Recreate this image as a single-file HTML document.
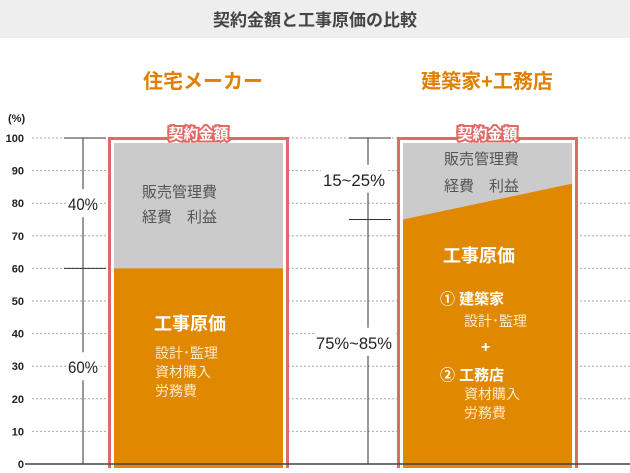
<!DOCTYPE html>
<html><head><meta charset="utf-8"><style>
body{margin:0;width:630px;height:468px;overflow:hidden;background:#fff;font-family:"Liberation Sans","Noto Sans CJK JP",sans-serif;}
</style></head><body>
<svg id="c" width="630" height="468" xmlns="http://www.w3.org/2000/svg" style="font-family:'Liberation Sans','Noto Sans CJK JP',sans-serif">
<rect x="0" y="0" width="630" height="38" fill="#eeeeee"/>
<text x="315" y="26" text-anchor="middle" font-size="17" font-weight="bold" fill="#444">契約金額と工事原価の比較</text>
<text x="203" y="88" text-anchor="middle" font-size="20" font-weight="bold" fill="#e07f00">住宅メーカー</text>
<text x="487" y="88" text-anchor="middle" font-size="20" font-weight="bold" fill="#e07f00">建築家+工務店</text>
<text x="8" y="122" font-size="11" font-weight="bold" fill="#222">(%)</text>
<g id="grid"></g>
<g id="bars"></g>
</svg>
<script>
const ticks=[0,10,20,30,40,50,60,70,80,90,100];
const categories=["住宅メーカー","建築家+工務店"];
const costLeft=[60,75];
const costRight=[60,86];
const y=v=>464-v*3.26;
const svg=document.getElementById('c');
const NS="http://www.w3.org/2000/svg";
function mk(t,a,p){const e=document.createElementNS(NS,t);for(const k in a)e.setAttribute(k,a[k]);(p||svg).appendChild(e);return e;}
const grid=document.getElementById('grid');
ticks.forEach(v=>{
  if(v>0){const l=mk('line',{x1:32,x2:630,y1:y(v),y2:y(v),stroke:'#aaa','stroke-dasharray':'2,2'},grid);
  
  }
  const t=mk('text',{x:24,y:y(v)+4,'text-anchor':'end','font-size':11,'font-weight':'bold',fill:'#222'},grid);t.textContent=v;
  
  
});
const bars=document.getElementById('bars');
const boxX=[108,397],boxW=181;
const bx=[83,368];
const lblX=[83,354];
const lbl1=["40%","15~25%"],lbl2=["60%","75%~85%"];
const len1=[30,62],len2=[30,76];
categories.forEach((c,i)=>{
  const x=boxX[i];
  const bg=mk('g',{},bars);
  
  
  mk('line',{x1:bx[i],x2:bx[i],y1:y(100),y2:y(0),stroke:'#333'},bg);
  mk('line',{x1:bx[i]-19,x2:bx[i]+23,y1:y(100),y2:y(100),stroke:'#333'},bg);
  mk('line',{x1:bx[i]-19,x2:bx[i]+23,y1:y(costLeft[i]),y2:y(costLeft[i]),stroke:'#333'},bg);
  const m1=(y(100)+y(costLeft[i]))/2, m2=(y(costLeft[i])+y(0))/2;
  mk('rect',{x:lblX[i]-len1[i]/2-2,y:m1-14,width:len1[i]+4,height:28,fill:'#fff'},bg);
  mk('rect',{x:lblX[i]-len2[i]/2-2,y:m2-14,width:len2[i]+4,height:28,fill:'#fff'},bg);
  const t1=mk('text',{x:lblX[i]-len1[i]/2,y:m1+7,'font-size':17,fill:'#222',textLength:len1[i],lengthAdjust:'spacingAndGlyphs'},bg);t1.textContent=lbl1[i];
  const t2=mk('text',{x:lblX[i]-len2[i]/2,y:m2+7,'font-size':17,fill:'#222',textLength:len2[i],lengthAdjust:'spacingAndGlyphs'},bg);t2.textContent=lbl2[i];
  const o=mk('rect',{x:x+1.5,y:138.5,width:boxW-3,height:340,fill:'#fff',stroke:'#e06a66','stroke-width':3},bars);
  
  
  const ix=x+6,iw=boxW-12;
  const g=mk('rect',{x:ix,y:143,width:iw,height:325,fill:'#cbcbcb'},bars);
  
  
  const p=mk('polygon',{points:`${ix},${y(costLeft[i])} ${ix+iw},${y(costRight[i])} ${ix+iw},468 ${ix},468`,fill:'#e08800'},bars);
  
  
  const cl=mk('text',{x:x+boxW/2,y:139,'text-anchor':'middle','font-size':15,'font-weight':'bold',fill:'#fff',stroke:'#e06a66','stroke-width':4,'paint-order':'stroke'},bars);cl.textContent='契約金額';
  
  
});
function txt(x,yy,s,sz,fill,w,name){const t=mk('text',{x:x,y:yy,'font-size':sz,fill:fill,'font-weight':w||'normal'},bars);t.textContent=s;
  
  return t;}
txt(142,197,'販売管理費',15,'#555','normal','overhead-text');
txt(142,222,'経費　利益',15,'#555','normal','overhead-text');
txt(154,330,'工事原価',18,'#fff','bold','cost-title');
txt(155,358,'設計･監理',14,'#fde8c8','normal','cost-item');
txt(155,377,'資材購入',14,'#fde8c8','normal','cost-item');
txt(155,396,'労務費',14,'#fde8c8','normal','cost-item');
txt(444,164,'販売管理費',15,'#555','normal','overhead-text');
txt(444,191,'経費　利益',15,'#555','normal','overhead-text');
txt(443,262,'工事原価',18,'#fff','bold','cost-title');
txt(440,304,'①  建築家',15,'#fff','bold','cost-architect');
txt(464,326,'設計･監理',14,'#fde8c8','normal','cost-item');
txt(481,352,'+',16,'#fff','bold','plus-sign');
txt(440,380,'②  工務店',15,'#fff','bold','cost-contractor');
txt(464,399,'資材購入',14,'#fde8c8','normal','cost-item');
txt(464,418,'労務費',14,'#fde8c8','normal','cost-item');
const base=mk('line',{x1:25,x2:630,y1:y(0),y2:y(0),stroke:'#444','stroke-width':1.5});


</script>
</body></html>
